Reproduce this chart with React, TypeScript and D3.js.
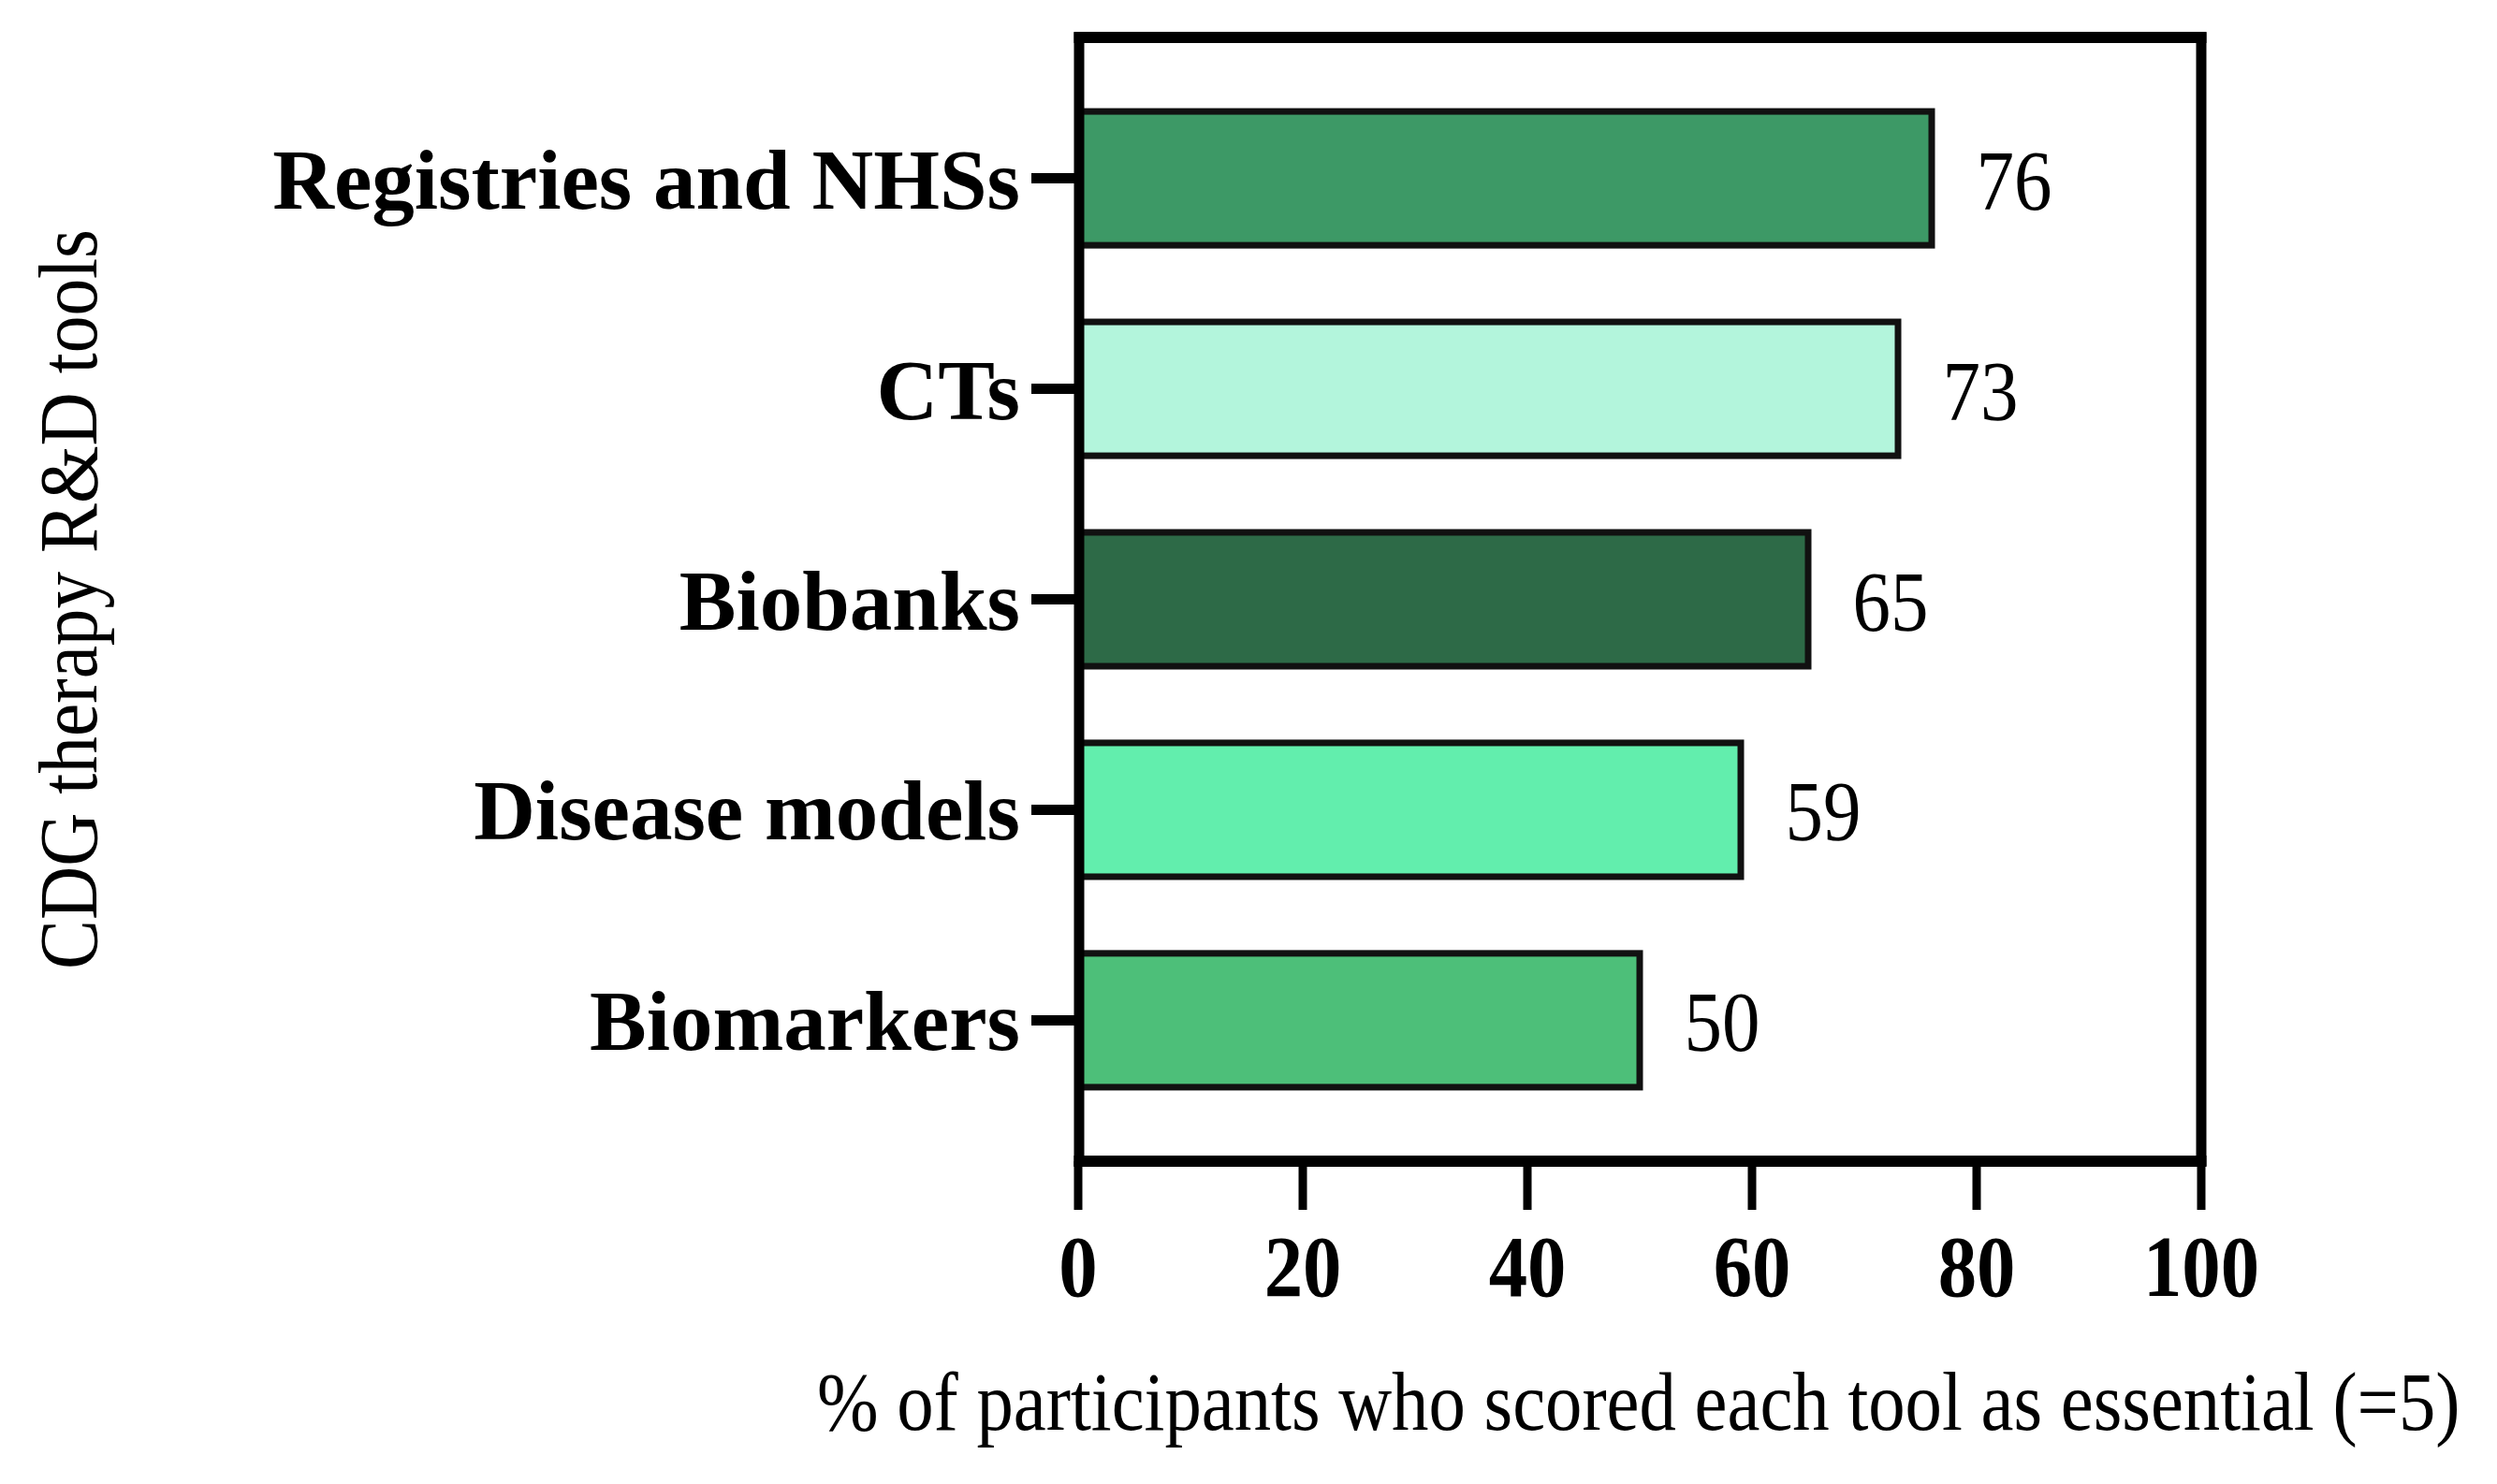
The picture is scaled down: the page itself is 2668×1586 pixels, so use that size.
import React, { useLayoutEffect, useRef, useState } from "react";
import * as d3 from "d3";

const categories = ["Registries and NHSs", "CTs", "Biobanks", "Disease models", "Biomarkers"];
const values = [76, 73, 65, 59, 50];
const barColors = ["#3d9966", "#b3f5dc", "#2d6a47", "#62eead", "#4dbf79"];
const xTicks = [0, 20, 40, 60, 80, 100];
const xTitle = "% of participants who scored each tool as essential (=5)";
const yTitle = "CDG therapy R&D tools";

const W = 2668;
const H = 1586;
const FONT = "'Liberation Serif', 'Times New Roman', serif";

function FitText(props: { text: string; width: number; x: number; y: number; rotate?: number; fontSize: number; anchor?: string }) {
  const ref = useRef<SVGTextElement>(null);
  const [sx, setSx] = useState(1);
  useLayoutEffect(() => {
    if (ref.current) {
      const w = ref.current.getComputedTextLength();
      if (w > 0) setSx(props.width / w);
    }
  }, [props.text, props.width]);
  const rot = props.rotate ? ` rotate(${props.rotate})` : "";
  return (
    <text
      ref={ref}
      transform={`translate(${props.x}, ${props.y})${rot} scale(${sx}, 1)`}
      textAnchor={props.anchor || "start"}
      fontFamily={FONT}
      fontSize={props.fontSize}
      fill="#000"
    >
      {props.text}
    </text>
  );
}

export default function App() {
  const left = 1153, right = 2352, top = 40, bottom = 1241;
  const x = d3.scaleLinear().domain([0, 100]).range([1152, 2352]);
  const y = d3.scaleBand<string>().domain(categories).range([top, bottom]).paddingInner(0.333).paddingOuter(0.336);
  const bw = y.bandwidth();

  return (
    <svg width={W} height={H} style={{ position: "absolute", left: 0, top: 0, background: "#fff" }}>
      <rect x={0} y={0} width={W} height={H} fill="#fff" />
      {/* bars */}
      {categories.map((c, i) => (
        <rect
          key={c}
          x={x(0)}
          y={(y(c) as number) + 3.5}
          width={x(values[i]) - x(0)}
          height={bw - 7}
          fill={barColors[i]}
          stroke="#111"
          strokeWidth={7}
        />
      ))}
      {/* value labels */}
      {categories.map((c, i) => (
        <text
          key={c + "v"}
          transform={`translate(${x(values[i]) + 88}, ${(y(c) as number) + bw / 2 + 33}) scale(0.9, 1)`}
          textAnchor="middle"
          fontFamily={FONT}
          fontSize={90}
          fill="#000"
        >
          {values[i]}
        </text>
      ))}
      {/* frame */}
      <line x1={left} x2={left} y1={top - 5.5} y2={bottom + 5.5} stroke="#000" strokeWidth={11} />
      <line x1={right} x2={right} y1={top - 5.5} y2={bottom + 5.5} stroke="#000" strokeWidth={11} />
      <line x1={left - 5.5} x2={right + 5.5} y1={top} y2={top} stroke="#000" strokeWidth={12} />
      <line x1={left - 5.5} x2={right + 5.5} y1={bottom} y2={bottom} stroke="#000" strokeWidth={12} />
      {/* y ticks + labels */}
      {categories.map((c) => {
        const cy = (y(c) as number) + bw / 2;
        return (
          <g key={c + "t"}>
            <line x1={1102} x2={left} y1={cy} y2={cy} stroke="#000" strokeWidth={11} />
            <text
              x={1090}
              y={cy + 32}
              textAnchor="end"
              fontFamily={FONT}
              fontWeight="bold"
              fontSize={91}
              fill="#000"
            >
              {c}
            </text>
          </g>
        );
      })}
      {/* x ticks + labels */}
      {xTicks.map((t) => (
        <g key={"x" + t}>
          <line x1={x(t)} x2={x(t)} y1={bottom} y2={1293} stroke="#000" strokeWidth={9} />
          <text
            transform={`translate(${x(t)}, 1385) scale(0.88, 1)`}
            textAnchor="middle"
            fontFamily={FONT}
            fontWeight="bold"
            fontSize={94}
            fill="#000"
          >
            {t}
          </text>
        </g>
      ))}
      {/* axis titles */}
      <FitText text={xTitle} width={1756} x={873} y={1528} fontSize={88} />
      <FitText text={yTitle} width={791} x={103} y={(top + bottom) / 2} rotate={-90} fontSize={88} anchor="middle" />
    </svg>
  );
}
